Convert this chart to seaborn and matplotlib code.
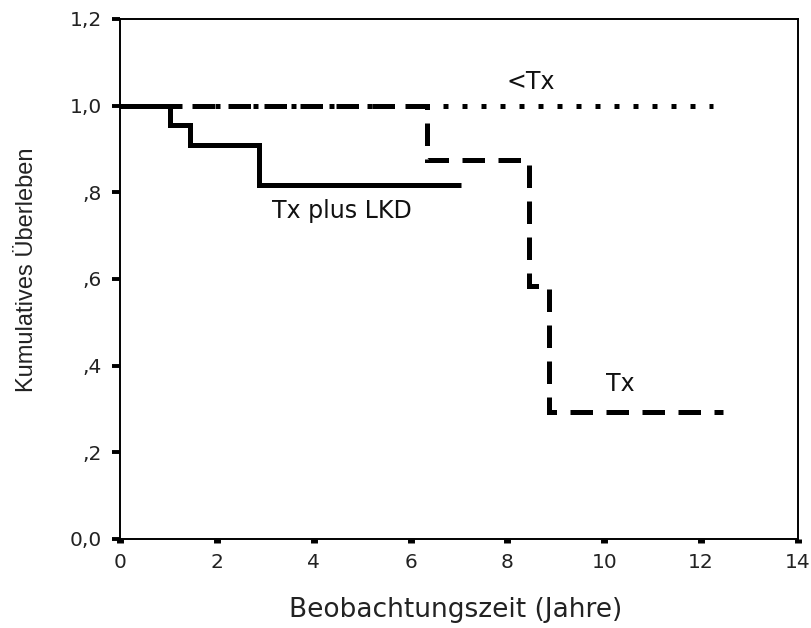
import matplotlib
matplotlib.use("Agg")
import matplotlib.pyplot as plt
from matplotlib import font_manager
import pandas as pd
import seaborn as sns

# Kaplan-Meier step curves (time in years, cumulative survival)
lkd_time = [0.0, 1.04, 1.45, 2.88, 7.05]
lkd_surv = [1.0, 0.955, 0.909, 0.818, 0.818]

tx_time = [0.0, 6.33, 8.44, 8.86, 12.45]
tx_surv = [1.0, 0.875, 0.583, 0.292, 0.292]

pre_time = [0.0, 12.25]
pre_surv = [1.0, 1.0]

group_names = ["Tx plus LKD", "Tx", "<Tx"]
group_labels = ["Tx plus LKD", "Tx", "<Tx"]
label_x = [4.58, 10.33, 8.49]
label_y = [0.757, 0.358, 1.055]

x_ticks = [0, 2, 4, 6, 8, 10, 12, 14]
y_ticks = [0.0, 0.2, 0.4, 0.6, 0.8, 1.0, 1.2]
y_tick_labels = ["0,0", ",2", ",4", ",6", ",8", "1,0", "1,2"]

x_title = "Beobachtungszeit (Jahre)"
y_title = "Kumulatives Überleben"

frames = []
for name, t, s in [(group_names[0], lkd_time, lkd_surv),
                   (group_names[1], tx_time, tx_surv),
                   (group_names[2], pre_time, pre_surv)]:
    frames.append(pd.DataFrame({"Zeit": t, "Ueberleben": s, "Gruppe": name}))
df = pd.concat(frames, ignore_index=True)

sns.set_style("white")
plt.rcParams["font.family"] = ["DejaVu Sans"]

installed = {f.name for f in font_manager.fontManager.ttflist}
ylabel_family = "Liberation Sans Narrow" if "Liberation Sans Narrow" in installed else "Liberation Sans"
ylabel_size = 20 if ylabel_family == "Liberation Sans Narrow" else 17

fig = plt.figure(figsize=(8.12, 6.28), dpi=100)
ax = fig.add_axes([120 / 812, 89 / 628, 678 / 812, 520 / 628])

lw = 3.6
dash_styles = {group_names[0]: "", group_names[1]: (4.5, 2.7), group_names[2]: (1.0, 2.8)}
sns.lineplot(data=df, x="Zeit", y="Ueberleben", style="Gruppe", dashes=dash_styles,
             color="black", linewidth=lw, drawstyle="steps-post",
             estimator=None, legend=False, ax=ax)
for line in ax.lines:
    line.set_dash_capstyle("butt")
    line.set_solid_capstyle("butt")
    line.set_solid_joinstyle("miter")
    line.set_dash_joinstyle("miter")

for txt, x, y in zip(group_labels, label_x, label_y):
    ax.text(x, y, txt, ha="center", va="center", fontsize=17, color="#111111")

ax.set_xlim(0, 14)
ax.set_ylim(0, 1.2)
ax.set_xticks(x_ticks)
ax.set_xticklabels([str(v) for v in x_ticks])
ax.set_yticks(y_ticks)
ax.set_yticklabels(y_tick_labels)

for side in ["left", "bottom", "top", "right"]:
    ax.spines[side].set_visible(True)
    ax.spines[side].set_color("black")
    ax.spines[side].set_linewidth(1.4)

ax.tick_params(axis="y", direction="out", length=6, width=2.8, pad=7,
               labelsize=14.5, colors="black", left=True, right=False)
ax.tick_params(axis="x", direction="out", length=3, width=5, pad=7,
               labelsize=14.5, colors="black", bottom=True, top=False)
for lab in ax.get_xticklabels() + ax.get_yticklabels():
    lab.set_color("#222222")

ax.set_xlabel(x_title, fontsize=19, color="#222222")
ax.xaxis.set_label_coords(0.495, -0.112)
ax.xaxis.label.set_va("top")
ax.set_ylabel(y_title, fontsize=ylabel_size, family=ylabel_family, color="#222222")
ax.yaxis.set_label_coords(-0.121, 0.517)

ax.grid(False)
fig.savefig("out.png", dpi=100, facecolor="white")
